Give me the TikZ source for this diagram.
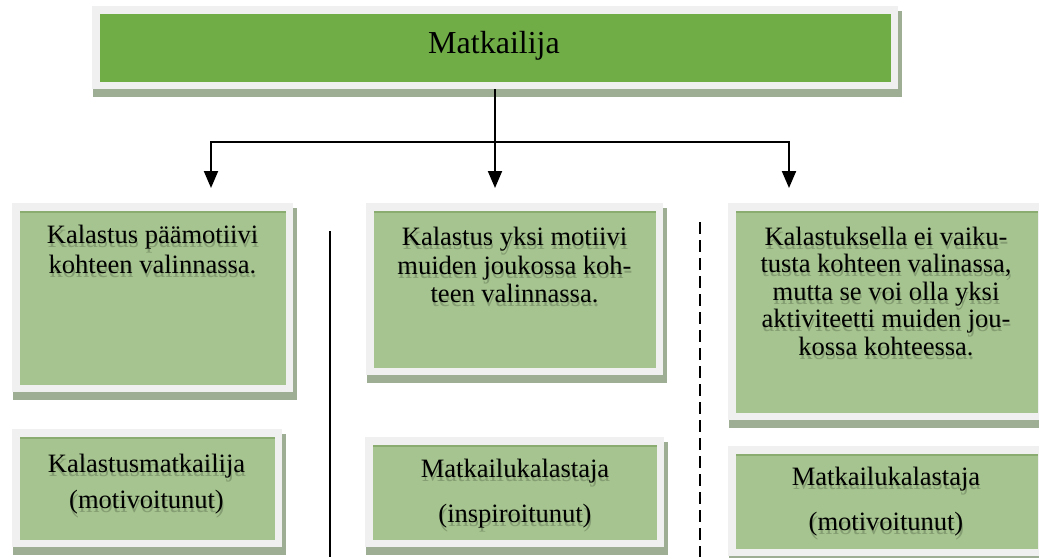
\documentclass[tikz,border=0pt]{standalone}
\usepackage{fontspec}
\setmainfont{Liberation Serif}
\usetikzlibrary{arrows.meta}

\definecolor{leafgreen}{HTML}{70AD47}
\definecolor{sagefill}{RGB}{166,196,143}
\definecolor{framecol}{RGB}{240,240,240}
\definecolor{dropcol}{RGB}{158,174,148}
\definecolor{edgecol}{RGB}{138,172,112}
\definecolor{glowcol}{RGB}{70,85,60}

\tikzset{
  panel/.style={draw=framecol, line width=7.5pt, fill=sagefill, inner sep=0pt,
    path picture={\draw[edgecol, line width=2pt]
      ([yshift=-4.8pt]path picture bounding box.north west) --
      ([yshift=-4.8pt]path picture bounding box.north east);}},
  headpanel/.style={draw=framecol, line width=7.5pt, fill=leafgreen, inner sep=0pt},
  lbl/.style={font=\fontsize{26.5}{28}\selectfont, anchor=base, inner sep=0pt, text=black},
  lblglow/.style={lbl, text=glowcol, opacity=0.35},
  link/.style={line width=2pt, -{Triangle[width=14pt,length=17pt]}},
  divider/.style={line width=1.5pt},
}

% panel: name, x1, y1, x2, y2 (outer frame edges), style
\newcommand\panelbox[6]{%
  \fill[dropcol] (#2+1,#3+5) rectangle (#4+4,#5+8);
  \node[#6, minimum width={(#4-#2-7.5)*1pt}, minimum height={(#5-#3-7.5)*1pt}]
    (#1) at ({(#2+#4)/2},{(#3+#5)/2}) {};}

% one line of text with its soft shadow: name, x, baseline y, text
\newcommand\tline[4]{%
  \node[lblglow] at (#2+1,#3+4) {#4};
  \node[lbl] (#1) at (#2,#3) {#4};}

\begin{document}
\begin{tikzpicture}[x=1pt, y=-1pt]
  \useasboundingbox (0,0) rectangle (1039,557);
  \fill[white] (0,0) rectangle (1039,557);

  % boxes
  \panelbox{top}{92}{6}{898}{89}{headpanel}
  \panelbox{p1}{12}{203}{293}{392}{panel}
  \panelbox{p2}{366}{203}{663}{375}{panel}
  \panelbox{p3}{728}{203}{1045}{420}{panel}
  \panelbox{q1}{12}{429}{282}{547}{panel}
  \panelbox{q2}{365}{437}{664}{547}{panel}
  \panelbox{q3}{728}{446}{1045}{556}{panel}

  % heading
  \node[lbl, font=\fontsize{32}{34}\selectfont] (head) at (494,53) {Matkailija};

  % upper texts
  \tline{p1a}{152.5}{243}{Kalastus päämotiivi}
  \tline{p1b}{152.5}{273}{kohteen valinnassa.}

  \tline{p2a}{514.5}{245}{Kalastus yksi motiivi}
  \tline{p2b}{514.5}{274}{muiden joukossa koh-}
  \tline{p2c}{514.5}{302}{teen valinnassa.}

  \tline{p3a}{886}{245}{Kalastuksella ei vaiku-}
  \tline{p3b}{886}{272}{tusta kohteen valinassa,}
  \tline{p3c}{886}{300}{mutta se voi olla yksi}
  \tline{p3d}{886}{327}{aktiviteetti muiden jou-}
  \tline{p3e}{886}{355}{kossa kohteessa.}

  % lower texts
  \tline{q1a}{146.5}{472}{Kalastusmatkailija}
  \tline{q1b}{146.5}{508}{(motivoitunut)}

  \tline{q2a}{515}{477}{Matkailukalastaja}
  \tline{q2b}{515}{522}{(inspiroitunut)}

  \tline{q3a}{886}{485}{Matkailukalastaja}
  \tline{q3b}{886}{530}{(motivoitunut)}

  % connectors
  \coordinate (a1) at (211,188);
  \coordinate (a2) at (top.south |- a1);
  \coordinate (a3) at (789,188);
  \coordinate (bar) at (0,142);
  \draw[link] (top.south) -- (a2);
  \draw[link] (a2 |- bar) -| (a1);
  \draw[link] (a2 |- bar) -| (a3);

  % column separators
  \coordinate (s1t) at (330,231);
  \coordinate (s1b) at (330,557);
  \coordinate (s2t) at (700,222);
  \coordinate (s2b) at (700,557);
  \draw[divider] (s1t) -- (s1b);
  \draw[divider, dash pattern=on 12pt off 6pt] (s2t) -- (s2b);
\end{tikzpicture}
\end{document}
